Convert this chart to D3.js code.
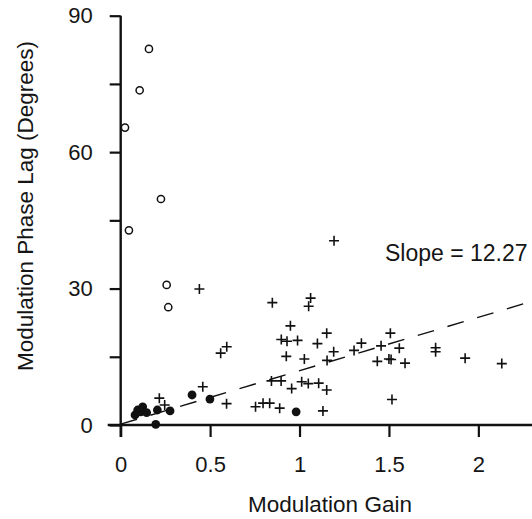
<!DOCTYPE html>
<html>
<head>
<meta charset="utf-8">
<script src="https://cdn.jsdelivr.net/npm/d3@7"></script>
<style>
  html, body { margin: 0; padding: 0; background: #fff; }
  svg text { font-family: "Liberation Sans", Arial, Helvetica, sans-serif; fill: #151515; }
</style>
</head>
<body>
<svg id="chart" width="532" height="519"></svg>
<script>
// Open circles
const openX = [0.158, 0.106, 0.024, 0.225, 0.046, 0.257, 0.266];
const openY = [82.7, 73.6, 65.4, 49.7, 42.8, 30.8, 25.9];

// Filled circles
const filledX = [0.080, 0.095, 0.123, 0.112, 0.145, 0.205, 0.276, 0.196, 0.399, 0.499, 0.981];
const filledY = [2.2, 3.3, 4.0, 2.9, 2.7, 3.3, 3.1, 0.15, 6.6, 5.7, 2.9];

// Crosses
const crossX = [0.216, 0.246, 0.440, 0.459, 0.559, 0.593, 0.592, 0.754, 0.796, 0.833,
  0.889, 0.843, 0.897, 0.956, 1.012, 1.049, 1.107, 1.152, 0.848, 1.062,
  1.051, 0.949, 0.898, 0.930, 0.989, 1.152, 1.100, 0.926, 1.027, 1.191,
  1.154, 1.193, 1.131, 1.305, 1.346, 1.456, 1.508, 1.558, 1.435, 1.512,
  1.500, 1.590, 1.761, 1.761, 1.926, 2.131, 1.517];
const crossY = [5.9, 4.4, 29.9, 8.4, 15.8, 17.2, 4.7, 4.0, 4.8, 4.8,
  3.7, 9.7, 9.7, 8.0, 9.5, 9.1, 9.2, 7.7, 26.9, 27.9,
  26.1, 21.8, 18.8, 18.4, 18.6, 20.2, 17.9, 15.1, 14.5, 16.1,
  14.2, 40.5, 3.1, 16.4, 18.0, 17.4, 20.2, 16.9, 14.0, 14.4,
  14.5, 13.6, 17.0, 16.1, 14.7, 13.5, 5.6];

// Regression line (dashed)
const fitX = [0, 2.3];
const fitY = [0.2, 27.2];

const xTicks = [0, 0.5, 1, 1.5, 2];
const xTickLabels = ["0", "0.5", "1", "1.5", "2"];
const yTicks = [0, 15, 30, 45, 60, 75, 90];
const yTickLabels = ["0", "", "30", "", "60", "", "90"];

const xTitle = "Modulation Gain";
const yTitle = "Modulation Phase Lag (Degrees)";
const slopeText = "Slope = 12.27";

const svg = d3.select("#chart");
const x = d3.scaleLinear().domain([0, 2.3]).range([120.7, 532]);
const y = d3.scaleLinear().domain([0, 90]).range([425, 15.7]);

const ink = "#111";

// X axis
const xAxis = d3.axisBottom(x)
  .tickValues(xTicks)
  .tickFormat((d, i) => xTickLabels[i])
  .tickSizeInner(12)
  .tickSizeOuter(0)
  .tickPadding(19);
const gx = svg.append("g").attr("transform", `translate(0,${y(0)})`).call(xAxis);
gx.select(".domain").remove();
gx.selectAll(".tick line").attr("stroke", ink).attr("stroke-width", 2.2);
gx.selectAll(".tick text").attr("font-size", 22).attr("fill", "#151515")
  .style("font-family", '"Liberation Sans", Arial, sans-serif');
svg.append("line")
  .attr("x1", x(0) - 13).attr("x2", x(2.3))
  .attr("y1", y(0)).attr("y2", y(0))
  .attr("stroke", ink).attr("stroke-width", 2.4);

// Y axis
const yAxis = d3.axisLeft(y)
  .tickValues(yTicks)
  .tickFormat((d, i) => yTickLabels[i])
  .tickSizeInner(11)
  .tickSizeOuter(0)
  .tickPadding(17);
const gy = svg.append("g").attr("transform", `translate(${x(0)},0)`).call(yAxis);
gy.select(".domain").remove();
gy.selectAll(".tick line").attr("stroke", ink).attr("stroke-width", 2.2);
gy.selectAll(".tick text").attr("font-size", 22).attr("fill", "#151515")
  .style("font-family", '"Liberation Sans", Arial, sans-serif');
svg.append("line")
  .attr("x1", x(0)).attr("x2", x(0))
  .attr("y1", y(90)).attr("y2", y(0) + 12)
  .attr("stroke", ink).attr("stroke-width", 2.4);

// Dashed fit line
svg.append("line")
  .attr("x1", x(fitX[0])).attr("y1", y(fitY[0]))
  .attr("x2", x(fitX[1])).attr("y2", y(fitY[1]))
  .attr("stroke", ink).attr("stroke-width", 1.4)
  .attr("stroke-dasharray", "17,14");

// Open circles
svg.append("g").selectAll("circle")
  .data(openX.map((v, i) => [v, openY[i]]))
  .join("circle")
  .attr("cx", d => x(d[0])).attr("cy", d => y(d[1]))
  .attr("r", 3.6)
  .attr("fill", "#fff").attr("stroke", ink).attr("stroke-width", 1.5);

// Crosses
const cs = 5;
svg.append("g").selectAll("path")
  .data(crossX.map((v, i) => [v, crossY[i]]))
  .join("path")
  .attr("d", d => {
    const cx = x(d[0]), cy = y(d[1]);
    return `M${cx - cs},${cy}H${cx + cs}M${cx},${cy - cs}V${cy + cs}`;
  })
  .attr("stroke", ink).attr("stroke-width", 1.6).attr("fill", "none");

// Filled circles
svg.append("g").selectAll("circle")
  .data(filledX.map((v, i) => [v, filledY[i]]))
  .join("circle")
  .attr("cx", d => x(d[0])).attr("cy", d => y(d[1]))
  .attr("r", 4.4)
  .attr("fill", ink);

// Slope annotation
svg.append("text")
  .attr("x", 385).attr("y", 261)
  .attr("font-size", 23)
  .text(slopeText);

// Axis titles
svg.append("text")
  .attr("x", 330).attr("y", 512)
  .attr("text-anchor", "middle")
  .attr("font-size", 22.5)
  .text(xTitle);

svg.append("text")
  .attr("transform", "translate(33,206) rotate(-90)")
  .attr("text-anchor", "middle")
  .attr("font-size", 22.5)
  .text(yTitle);
</script>
</body>
</html>
